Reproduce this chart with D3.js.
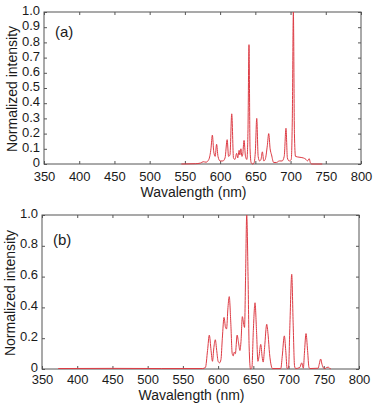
<!DOCTYPE html>
<html lang="en">
<head>
<meta charset="UTF-8">
<title>Normalized emission spectra</title>
<script src="https://d3js.org/d3.v7.min.js"></script>
<style>
    body {
        margin: 0;
        background: #ffffff;
        font-family: "Liberation Sans", Arial, sans-serif;
    }
    .tick text {
        font-size: 13px;
        fill: #1a1a1a;
    }
    .tick line {
        stroke: #555;
    }
    .axis-title {
        font-size: 14px;
        fill: #1a1a1a;
    }
    .panel-label {
        font-size: 15px;
        fill: #1a1a1a;
    }
</style>
</head>
<body>
<div id="chart"></div>
<script>
// wavelength ticks shared by both panels
const xTicks = [350, 400, 450, 500, 550, 600, 650, 700, 750, 800];
const yTicksA = [0, 0.1, 0.2, 0.3, 0.4, 0.5, 0.6, 0.7, 0.8, 0.9, 1.0];
const yTicksB = [0, 0.2, 0.4, 0.6, 0.8, 1.0];

// (a) spectrum, [wavelength nm, normalized intensity]
const spectrumA = [
    [545, 0], [565, 0.002], [572, 0.006], [576, 0.015], [580, 0.012], [584, 0.03],
    [587, 0.1], [589, 0.19], [591, 0.08], [593, 0.05], [595, 0.13], [597, 0.05],
    [600, 0.02], [604, 0.02], [607, 0.04], [610, 0.16], [612, 0.05], [614, 0.06],
    [616.5, 0.33], [619, 0.04], [621, 0.03], [623.5, 0.07], [625, 0.04], [627, 0.09],
    [628, 0.06], [629.5, 0.1], [631, 0.05], [632, 0.06], [634, 0.155], [636, 0.05],
    [638, 0.03], [639.5, 0.2], [641, 0.785], [642.5, 0.1], [644, 0.01], [646, 0],
    [648, 0.005], [650, 0.08], [652, 0.3], [654, 0.05], [656, 0.02], [658, 0.03],
    [660, 0.08], [662, 0.02], [664, 0.03], [667, 0.12], [669, 0.2], [671, 0.1],
    [673, 0.06], [676, 0.01], [680, 0.01], [684, 0.02], [688, 0.02], [691, 0.05],
    [693.5, 0.235], [695.5, 0.04], [698, 0.02], [701, 0.03], [702.5, 0.3], [704, 1.0],
    [705.5, 0.2], [707, 0.05], [712, 0.045], [718, 0.04], [722, 0.03], [724, 0.02],
    [726.5, 0.035], [728, 0.01], [730, 0], [745, 0]
];

// (b) spectrum
const spectrumB = [
    [373, 0.003], [450, 0.004], [520, 0.003], [578, 0.003], [582, 0.01], [585, 0.12],
    [587.5, 0.22], [590, 0.12], [592, 0.05], [594, 0.14], [596, 0.19], [598, 0.12],
    [600, 0.05], [602, 0.04], [604, 0.06], [606, 0.2], [608.4, 0.335], [610.5, 0.27],
    [612, 0.26], [614, 0.4], [615.8, 0.47], [618, 0.3], [620, 0.1], [621.5, 0.085],
    [623, 0.11], [624.5, 0.1], [627, 0.22], [629, 0.17], [631, 0.12], [632.5, 0.18],
    [634.4, 0.34], [636, 0.3], [637.5, 0.27], [639, 0.6], [640.6, 1.0], [642.5, 0.6],
    [644, 0.15], [646, 0], [648, 0.01], [650, 0.25], [652.4, 0.43], [654.5, 0.25],
    [656.5, 0.05], [658, 0.08], [660.5, 0.16], [662.5, 0.08], [664, 0.045], [666, 0.14],
    [669, 0.29], [671, 0.22], [673, 0.1], [675.5, 0.02], [677, 0.003], [689, 0.003],
    [691, 0.08], [694, 0.215], [696, 0.12], [698, 0.003], [700, 0.01], [702, 0.3],
    [704.5, 0.615], [706.5, 0.3], [708.5, 0.02], [710, 0.003], [716, 0.01], [718.7, 0.04],
    [721, 0.005], [722.5, 0.1], [724.8, 0.23], [727, 0.12], [729, 0.01], [730.5, 0.003],
    [742, 0.005], [743.5, 0.03], [745.6, 0.065], [747.5, 0.03], [750, 0.005], [752, 0.003],
    [754, 0.01], [756.5, 0.012], [758, 0.005], [760, 0.002]
];

const W = 374, H = 409;

const svg = d3.select("#chart")
    .append("svg")
    .attr("width", W)
    .attr("height", H);

// panel boxes in page pixels
const panels = [
    { label: "(a)", data: spectrumA, yTicks: yTicksA, yShift: -1.5,
      left: 44, right: 361, top: 12, bottom: 164, labelY: 37, tickY: 180.5, titleY: 196.5, yTitleX: 12 },
    { label: "(b)", data: spectrumB, yTicks: yTicksB, yShift: -2,
      left: 42, right: 359, top: 215, bottom: 369, labelY: 245, tickY: 384, titleY: 400, yTitleX: 10 }
];

const fmt = d => d === 0 ? "0" : d3.format(".1f")(d);

panels.forEach(p => {
    const x = d3.scaleLinear().domain([350, 800]).range([p.left, p.right]);
    const y = d3.scaleLinear().domain([0, 1]).range([p.bottom, p.top]);
    const g = svg.append("g");

    // bottom axis, ticks pointing in
    const bx = g.append("g")
        .attr("transform", `translate(0,${p.bottom})`)
        .call(d3.axisBottom(x).tickValues(xTicks).tickSizeInner(-3).tickSizeOuter(0).tickPadding(6));
    bx.select(".domain").remove();
    bx.selectAll("text").attr("y", p.tickY - p.bottom).attr("dy", 0);

    // top axis, no labels
    const tx = g.append("g")
        .attr("transform", `translate(0,${p.top})`)
        .call(d3.axisTop(x).tickValues(xTicks).tickSizeInner(-3).tickSizeOuter(0).tickFormat(""));
    tx.select(".domain").remove();

    // left axis
    const ly = g.append("g")
        .attr("transform", `translate(${p.left},0)`)
        .call(d3.axisLeft(y).tickValues(p.yTicks).tickSizeInner(-3).tickSizeOuter(0).tickPadding(4).tickFormat(fmt));
    ly.select(".domain").remove();
    ly.selectAll("text").attr("y", p.yShift);

    // right axis
    const ry = g.append("g")
        .attr("transform", `translate(${p.right},0)`)
        .call(d3.axisRight(y).tickValues(p.yTicks).tickSizeInner(-3).tickSizeOuter(0).tickFormat(""));
    ry.select(".domain").remove();

    g.selectAll(".tick text").style("font-family", "'Liberation Sans', Arial, sans-serif");

    // box
    g.append("rect")
        .attr("x", p.left)
        .attr("y", p.top)
        .attr("width", p.right - p.left)
        .attr("height", p.bottom - p.top)
        .attr("fill", "none")
        .attr("stroke", "#555")
        .attr("stroke-width", 1);

    // spectrum
    const line = d3.line()
        .x(d => x(d[0]))
        .y(d => y(d[1]))
        .curve(d3.curveMonotoneX);

    g.append("path")
        .datum(p.data)
        .attr("d", line)
        .attr("fill", "none")
        .attr("stroke", "#dd3b44")
        .attr("stroke-width", 1);

    g.append("text")
        .attr("class", "panel-label")
        .attr("x", p.left + 11)
        .attr("y", p.labelY)
        .text(p.label);

    g.append("text")
        .attr("class", "axis-title")
        .attr("x", (p.left + p.right) / 2 - 9)
        .attr("y", p.titleY)
        .attr("text-anchor", "middle")
        .text("Wavalength (nm)");

    g.append("text")
        .attr("class", "axis-title")
        .attr("transform", `translate(${p.yTitleX + 5},${(p.top + p.bottom) / 2 + 1}) rotate(-90)`)
        .attr("text-anchor", "middle")
        .text("Normalized intensity");
});
</script>
</body>
</html>
